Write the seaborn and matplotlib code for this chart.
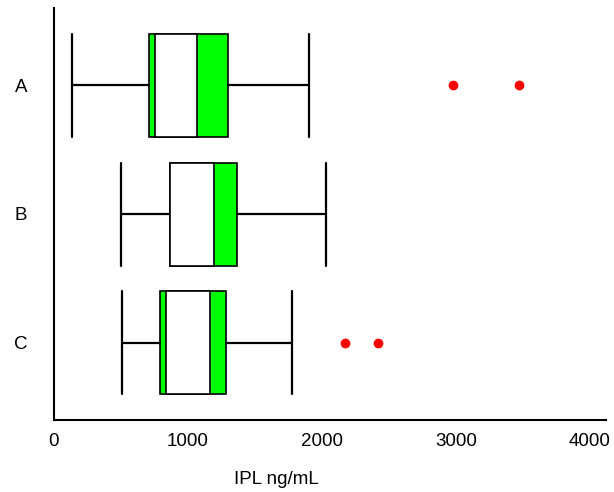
import matplotlib
matplotlib.use("Agg")
import matplotlib.pyplot as plt
import seaborn as sns

groups = ["A", "B", "C"]
whisk_lo = [140, 500, 509]
q1 = [711, 872, 791]
q3 = [1301, 1366, 1286]
whisk_hi = [1903, 2032, 1781]
ci_lo = [759, 872, 837]
ci_hi = [1071, 1199, 1164]
medians = [915, 1036, 1000]
outliers = [[2981, 3468], [], [2172, 2419]]

sns.set_style("white")
plt.rcParams['font.family'] = ['Liberation Sans', 'DejaVu Sans']
plt.rcParams['text.color'] = 'black'
plt.rcParams['xtick.color'] = 'black'
plt.rcParams['ytick.color'] = 'black'
plt.rcParams['axes.labelcolor'] = 'black'

fig = plt.figure(figsize=(6.14, 4.92), dpi=100)
ax = fig.add_axes([53.5/614, 72/492, (606-53.5)/614, (420-8)/492])

stats = []
for i, g in enumerate(groups):
    stats.append(dict(label=g, med=medians[i], q1=q1[i], q3=q3[i],
                      whislo=whisk_lo[i], whishi=whisk_hi[i], fliers=outliers[i]))
pos = list(range(len(groups)))
ax.bxp(stats, positions=pos, vert=False, widths=0.8, patch_artist=True,
       boxprops=dict(facecolor="#00ff00", edgecolor="black", linewidth=1.2),
       whiskerprops=dict(color="black", linewidth=1.6),
       capprops=dict(color="black", linewidth=1.6),
       capwidths=0.8,
       medianprops=dict(linewidth=0),
       flierprops=dict(marker="o", markerfacecolor="red", markeredgecolor="red", markersize=6))
ax.barh(pos, [h - l for l, h in zip(ci_lo, ci_hi)], left=ci_lo, height=0.8,
        color="white", edgecolor="black", linewidth=1.2, zorder=3)

ax.set_xlim(0, 4120)
ax.set_ylim(2.6, -0.6)
ax.set_yticks(pos)
ax.set_yticklabels(groups, fontsize=13.5)
ax.set_xticks([0, 1000, 2000, 3000, 4000])
ax.set_xticklabels(["0", "1000", "2000", "3000", "4000"], fontsize=13.5)
ax.tick_params(axis="y", length=0, pad=19)
ax.tick_params(axis="x", length=5, width=1.3, direction="out", pad=4, color="black")
for s in ["top", "right"]:
    ax.spines[s].set_visible(False)
for s in ["left", "bottom"]:
    ax.spines[s].set_color("black")
    ax.spines[s].set_linewidth(1.5)
ax.set_xlabel("IPL ng/mL", fontsize=13.5)
ax.xaxis.set_label_coords(0.403, -0.125)

fig.savefig("out.png", dpi=100)
